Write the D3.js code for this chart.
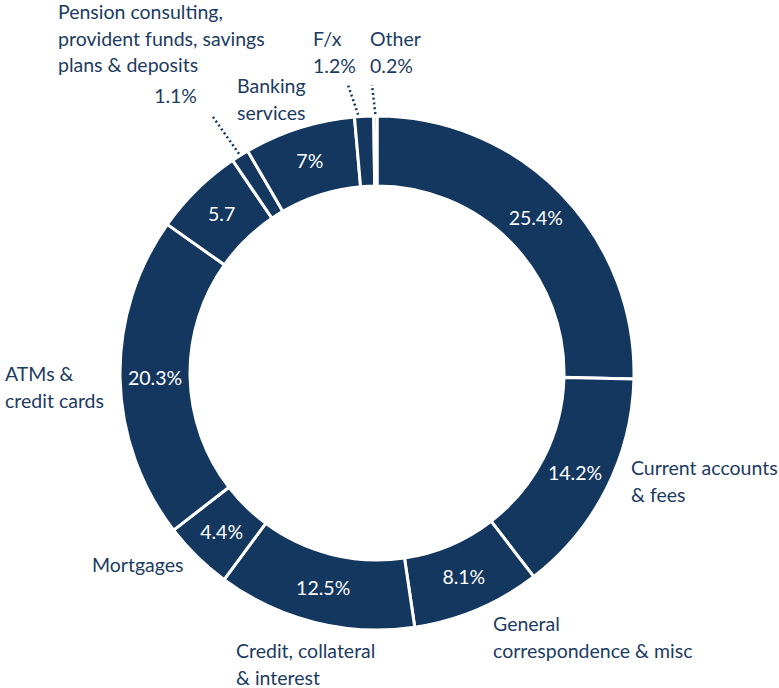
<!DOCTYPE html>
<meta charset="utf-8">
<script src="https://d3js.org/d3.v7.min.js"></script>
<style>
body { margin:0; background:white; overflow:hidden; }
text { font-family: Lato, "Noto Sans", sans-serif; }
</style>
<body>
<div id="chart"></div>
<script>

var categories = ["Current accounts & fees (1)", "Current accounts & fees (2)", "General correspondence & misc",
                  "Credit, collateral & interest", "Mortgages", "ATMs & credit cards",
                  "Unlabelled", "Pension consulting, provident funds, savings plans & deposits",
                  "Banking services", "F/x", "Other"];
var values = [25.4, 14.2, 8.1, 12.5, 4.4, 20.3, 5.7, 1.1, 7, 1.2, 0.2];
var innerLabels = ["25.4%", "14.2%", "8.1%", "12.5%", "4.4%", "20.3%", "5.7", "", "7%", "", ""];

// outside text blocks: lines, x, baseline of first line, anchor
var outerLabels = [
  {lines:["Pension consulting,", "provident funds, savings", "plans & deposits"], x:58, y:19, anchor:"start"},
  {lines:["1.1%"], x:197, y:103, anchor:"end"},
  {lines:["Banking", "services"], x:237, y:93, anchor:"start"},
  {lines:["F/x", "1.2%"], x:313, y:46, anchor:"start"},
  {lines:["Other", "0.2%"], x:370, y:46, anchor:"start"},
  {lines:["ATMs &", "credit cards"], x:5, y:381, anchor:"start"},
  {lines:["Mortgages"], x:92, y:572, anchor:"start"},
  {lines:["Credit, collateral", "& interest"], x:236, y:658, anchor:"start"},
  {lines:["General", "correspondence & misc"], x:493, y:631, anchor:"start"},
  {lines:["Current accounts", "& fees"], x:631, y:475, anchor:"start"}
];

// dotted leaders: slice index, end point near label
var leaders = [
  {slice:7, end:[213,117]},
  {slice:9, end:[348,85], at:0.2},
  {slice:10, end:[372,85], at:0.5}
];

var width = 779, height = 688,
    cx = 377, cy = 373,
    outerR = 257, innerR = 187,
    navy = "#13375f", textCol = "#1c3b61";

var svg = d3.select("#chart").append("svg")
    .attr("width", width)
    .attr("height", height);

var g = svg.append("g").attr("transform", "translate(" + cx + "," + cy + ")");

var pie = d3.pie().sort(null).value(function(d) { return d; });
var arcs = pie(values);
var arc = d3.arc().innerRadius(innerR).outerRadius(outerR);
var labelArc = d3.arc().innerRadius(222).outerRadius(222);

g.selectAll("path.slice")
  .data(arcs)
  .enter().append("path")
  .attr("class", "slice")
  .attr("d", arc)
  .attr("fill", navy)
  .attr("stroke", "white")
  .attr("stroke-width", 3)
  .attr("stroke-linejoin", "miter");

g.selectAll("text.inner")
  .data(arcs)
  .enter().append("text")
  .attr("class", "inner")
  .attr("transform", function(d) { return "translate(" + labelArc.centroid(d) + ")"; })
  .attr("text-anchor", "middle")
  .attr("dy", "0.36em")
  .attr("fill", "white")
  .style("font-size", "19.5px")
  .text(function(d, i) { return innerLabels[i]; });

// leaders
leaders.forEach(function(l) {
  var a = arcs[l.slice];
  var t = l.at == null ? 0.5 : l.at;
  var ang = a.startAngle + (a.endAngle - a.startAngle) * t;
  var r = outerR + 2;
  var sx = cx + r * Math.sin(ang), sy = cy - r * Math.cos(ang);
  svg.append("line")
    .attr("x1", sx).attr("y1", sy)
    .attr("x2", l.end[0]).attr("y2", l.end[1])
    .attr("stroke", navy)
    .attr("stroke-width", 2.5)
    .attr("stroke-dasharray", "2,2.8");
});

outerLabels.forEach(function(o) {
  var t = svg.append("text")
    .attr("x", o.x).attr("y", o.y)
    .attr("text-anchor", o.anchor)
    .attr("fill", textCol)
    .style("font-size", "19.5px");
  o.lines.forEach(function(s, i) {
    t.append("tspan").attr("x", o.x).attr("dy", i ? 26.5 : 0).text(s);
  });
});

</script>
</body>
</html>
